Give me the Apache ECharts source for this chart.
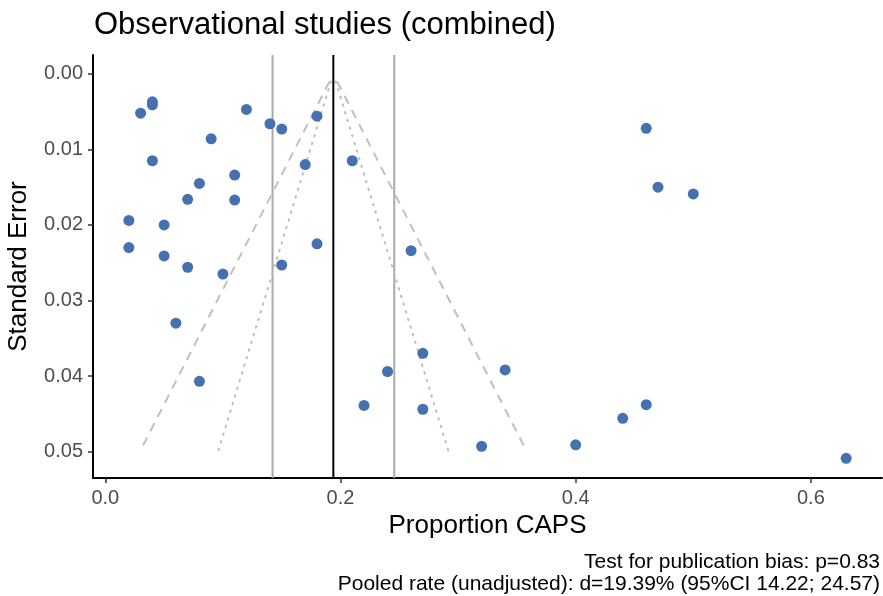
<!DOCTYPE html>
<html>
<head>
<meta charset="utf-8">
<script src="https://cdn.jsdelivr.net/npm/echarts@6/dist/echarts.min.js"></script>
<style>html,body{margin:0;padding:0;background:#fff;}#c{width:883px;height:596px;}</style>
</head>
<body>
<div id="c"></div>
<script>
// Study proportions (x) and standard errors (y)
var proportion = [0.03,0.04,0.04,0.12,0.14,0.15,0.18,0.09,0.04,0.17,0.21,0.11,0.08,0.07,0.11,0.02,0.05,0.02,0.05,0.07,0.10,0.18,0.15,0.06,0.08,0.22,0.24,0.26,0.27,0.27,0.34,0.32,0.40,0.44,0.46,0.47,0.50,0.46,0.63];
var stdError   = [0.0052,0.0037,0.0041,0.0047,0.0066,0.0073,0.0056,0.0086,0.0115,0.0120,0.0115,0.0134,0.0145,0.0166,0.0167,0.0194,0.0200,0.0230,0.0241,0.0256,0.0265,0.0225,0.0253,0.0330,0.0407,0.0439,0.0394,0.0234,0.0370,0.0444,0.0392,0.0493,0.0491,0.0456,0.0072,0.0150,0.0159,0.0438,0.0509];
var pooled = 0.1939, ciLow = 0.1422, ciHigh = 0.2457;
var funnelSE = [0.001, 0.050];
var dashedLeft = [0.1906, 0.0294], dashedRight = [0.1972, 0.3584];
var dottedLeft = [0.1919, 0.0959], dottedRight = [0.1959, 0.2919];
var xTicks = [0, 0.2, 0.4, 0.6];
var yTicks = [0, 0.01, 0.02, 0.03, 0.04, 0.05];

var yMin = -0.0025, yMax = 0.0535;
var pts = proportion.map(function(p,i){return [p, stdError[i]];});
function line(xs){return xs.map(function(x,i){return [x, funnelSE[i]];});}
function vline(x){return [[x, yMin],[x, yMax]];}

var chart = echarts.init(document.getElementById('c'), null, {renderer:'canvas'});
var font = '"Liberation Sans", Arial, Helvetica, sans-serif';
chart.setOption({
  animation:false,
  backgroundColor:'#fff',
  title:{text:'Observational studies (combined)', left:89, top:5,
    textStyle:{fontFamily:font, fontSize:31, fontWeight:'normal', color:'#000'}},
  grid:{left:93, right:1, top:55, bottom:118, containLabel:false, outerBoundsMode:'none'},
  xAxis:{type:'value', min:-0.0105, max:0.6605,
    name:'Proportion CAPS', nameLocation:'middle', nameGap:33,
    nameTextStyle:{fontFamily:font, fontSize:26, color:'#000'},
    axisLine:{show:true, onZero:false, lineStyle:{color:'#000', width:2}},
    axisTick:{show:true, length:5, lineStyle:{color:'#333', width:1.5}, customValues:xTicks},
    axisLabel:{fontFamily:font, fontSize:20, color:'#4d4d4d', margin:10, customValues:xTicks,
      formatter:function(v){return v.toFixed(1);}},
    splitLine:{show:false}},
  yAxis:{type:'value', inverse:true, min:yMin, max:yMax,
    name:'Standard Error', nameLocation:'middle', nameGap:61, nameRotate:90,
    nameTextStyle:{fontFamily:font, fontSize:26, color:'#000'},
    axisLine:{show:true, onZero:false, lineStyle:{color:'#000', width:2}},
    axisTick:{show:true, length:5, lineStyle:{color:'#333', width:1.5}, customValues:yTicks},
    axisLabel:{fontFamily:font, fontSize:20, color:'#4d4d4d', margin:10, customValues:yTicks,
      formatter:function(v){return v.toFixed(2);}},
    splitLine:{show:false}},
  series:[
    {type:'line', data:vline(ciLow), symbol:'none', lineStyle:{color:'#aaaaaa', width:2}, z:2},
    {type:'line', data:vline(ciHigh), symbol:'none', lineStyle:{color:'#aaaaaa', width:2}, z:2},
    {type:'line', data:vline(pooled), symbol:'none', lineStyle:{color:'#000', width:2}, z:2},
    {type:'line', data:line(dashedLeft), symbol:'none', lineStyle:{color:'#c0c0c0', width:2, type:[9,7]}, z:3},
    {type:'line', data:line(dashedRight), symbol:'none', lineStyle:{color:'#c0c0c0', width:2, type:[9,7]}, z:3},
    {type:'line', data:line(dottedLeft), symbol:'none', lineStyle:{color:'#bdbdbd', width:2, type:[1.5,6.5], cap:'round'}, z:3},
    {type:'line', data:line(dottedRight), symbol:'none', lineStyle:{color:'#bdbdbd', width:2, type:[1.5,6.5], cap:'round'}, z:3},
    {type:'scatter', data:pts, symbol:'circle', symbolSize:11, itemStyle:{color:'#4671b0', opacity:1}, z:5}
  ],
  graphic:[
    {type:'text', right:3, top:552, style:{text:'Test for publication bias: p=0.83', font:'21px '+font, fill:'#000', textAlign:'right'}},
    {type:'text', right:3, top:574, style:{text:'Pooled rate (unadjusted): d=19.39% (95%CI 14.22; 24.57)', font:'21px '+font, fill:'#000', textAlign:'right'}}
  ]
});
</script>
</body>
</html>
